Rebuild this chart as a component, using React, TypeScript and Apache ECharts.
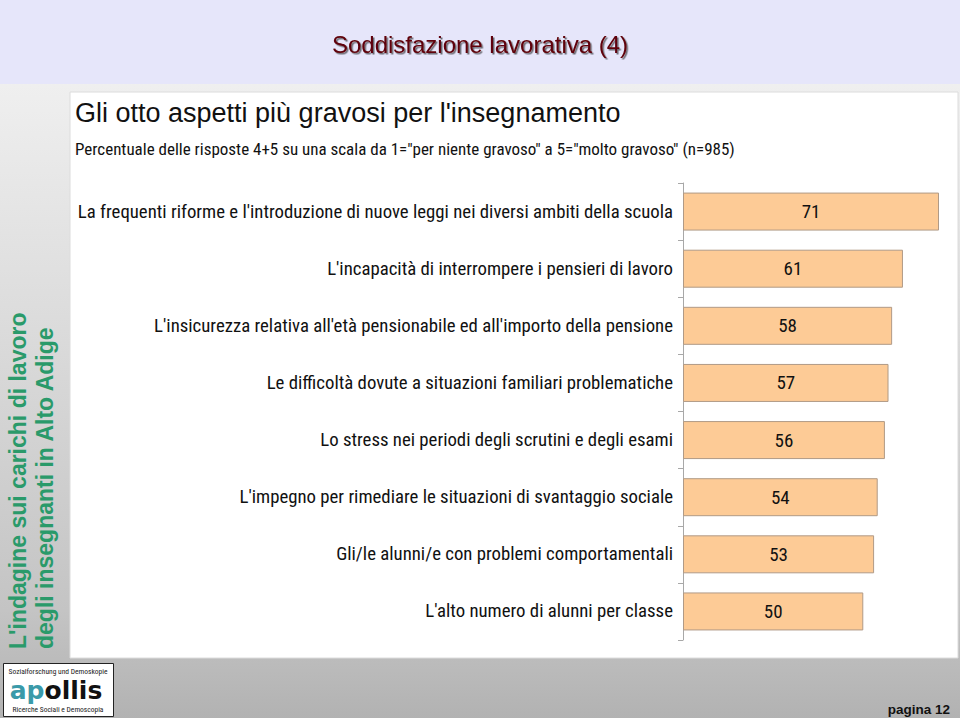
import React, { useEffect, useRef } from "react";
import * as echarts from "echarts";

const categories = [
  "La frequenti riforme e l'introduzione di nuove leggi nei diversi ambiti della scuola",
  "L'incapacità di interrompere i pensieri di lavoro",
  "L'insicurezza relativa all'età pensionabile ed all'importo della pensione",
  "Le difficoltà dovute a situazioni familiari problematiche",
  "Lo stress nei periodi degli scrutini e degli esami",
  "L'impegno per rimediare le situazioni di svantaggio sociale",
  "Gli/le alunni/e con problemi comportamentali",
  "L'alto numero di alunni per classe",
];
const values = [71, 61, 58, 57, 56, 54, 53, 50];

const pageTitle = "Soddisfazione lavorativa (4)";
const heading = "Gli otto aspetti più gravosi per l'insegnamento";
const subheading =
  'Percentuale delle risposte 4+5 su una scala da 1="per niente gravoso" a 5="molto gravoso" (n=985)';
const sideLine1 = "L'indagine sui carichi di lavoro";
const sideLine2 = "degli insegnanti in Alto Adige";
const pageLabel = "pagina 12";

const NARROW = "'Liberation Sans Narrow', 'Arial Narrow', 'Roboto Condensed', sans-serif";
const SANS = "'Liberation Sans', Arial, Helvetica, sans-serif";

export default function App() {
  const ref = useRef<HTMLDivElement>(null);
  useEffect(() => {
    if (!ref.current) return;
    const chart = echarts.init(ref.current, undefined, { renderer: "svg" });
    chart.setOption({
      animation: false,
      backgroundColor: "transparent",
      graphic: [
        {
          type: "rect",
          z: -10,
          shape: { x: 0, y: 0, width: 960, height: 718 },
          style: {
            fill: new echarts.graphic.LinearGradient(0, 0, 0, 1, [
              { offset: 0, color: "#f6f6f6" },
              { offset: 0.85, color: "#c4c4c4" },
              { offset: 1, color: "#b2b2b2" },
            ]),
          },
        },
        {
          type: "rect",
          z: -9,
          shape: { x: 0, y: 0, width: 960, height: 84 },
          style: { fill: "#e6e6fa" },
        },
        {
          type: "text",
          z: 5,
          x: 480,
          y: 44,
          style: {
            text: pageTitle,
            fontFamily: SANS,
            fontSize: 24,
            fill: "#5e0008",
            align: "center",
            verticalAlign: "middle",
            textShadowColor: "rgba(0,0,0,0.55)",
            textShadowOffsetX: 1.5,
            textShadowOffsetY: 1.5,
            textShadowBlur: 1,
          },
        },
        {
          type: "rect",
          z: -8,
          shape: { x: 70, y: 92, width: 888, height: 566 },
          style: { fill: "#ffffff", stroke: "#dcdcdc", lineWidth: 1 },
        },
        {
          type: "text",
          z: 5,
          x: 75,
          y: 113,
          style: {
            text: heading,
            fontFamily: SANS,
            fontSize: 27,
            fill: "#111",
            align: "left",
            verticalAlign: "middle",
          },
        },
        {
          type: "text",
          z: 5,
          x: 75,
          y: 149,
          style: {
            text: subheading,
            fontFamily: NARROW,
            fontSize: 17,
            fill: "#111",
            align: "left",
            verticalAlign: "middle",
          },
        },
        {
          type: "text",
          z: 5,
          x: 18,
          y: 649,
          rotation: Math.PI / 2,
          style: {
            text: sideLine1,
            fontFamily: SANS,
            fontWeight: "bold",
            fontSize: 23,
            fill: "#2a9a6a",
            align: "left",
            verticalAlign: "middle",
          },
        },
        {
          type: "text",
          z: 5,
          x: 45,
          y: 649,
          rotation: Math.PI / 2,
          style: {
            text: sideLine2,
            fontFamily: SANS,
            fontWeight: "bold",
            fontSize: 23,
            fill: "#2a9a6a",
            align: "left",
            verticalAlign: "middle",
          },
        },
        {
          type: "rect",
          z: 5,
          shape: { x: 3.5, y: 663.5, width: 110, height: 53 },
          style: { fill: "#ffffff", stroke: "#222", lineWidth: 1 },
        },
        {
          type: "text",
          z: 6,
          x: 58,
          y: 671,
          style: {
            text: "Sozialforschung und Demoskopie",
            fontFamily: NARROW,
            fontSize: 7.5,
            fill: "#222",
            align: "center",
            verticalAlign: "middle",
          },
        },
        {
          type: "text",
          z: 6,
          x: 56,
          y: 690,
          style: {
            text: "{a|ap}{b|ollis}",
            align: "center",
            verticalAlign: "middle",
            rich: {
              a: { fontFamily: "'DejaVu Sans', sans-serif", fontWeight: "bold", fontSize: 25, fill: "#3a9aa9" },
              b: { fontFamily: "'DejaVu Sans', sans-serif", fontWeight: "bold", fontSize: 25, fill: "#111" },
            },
          },
        },
        {
          type: "text",
          z: 6,
          x: 58,
          y: 709,
          style: {
            text: "Ricerche Sociali e Demoscopia",
            fontFamily: NARROW,
            fontSize: 7.5,
            fill: "#222",
            align: "center",
            verticalAlign: "middle",
          },
        },
        {
          type: "text",
          z: 6,
          x: 950,
          y: 709,
          style: {
            text: pageLabel,
            fontFamily: SANS,
            fontWeight: "bold",
            fontSize: 13.5,
            fill: "#111",
            align: "right",
            verticalAlign: "middle",
          },
        },
      ],
      grid: { left: 683, top: 183, width: 256, height: 457, containLabel: false },
      xAxis: {
        type: "value",
        min: 0,
        max: 71,
        show: false,
      },
      yAxis: {
        type: "category",
        data: categories,
        inverse: true,
        axisLine: { show: true, lineStyle: { color: "#a8a8a8", width: 1 } },
        axisTick: { show: true, length: 5, lineStyle: { color: "#a8a8a8" } },
        axisLabel: {
          margin: 10,
          fontFamily: NARROW,
          fontSize: 18.8,
          color: "#111",
        },
        splitLine: { show: false },
      },
      series: [
        {
          type: "bar",
          data: values,
          barWidth: 38,
          itemStyle: { color: "#fdcb96", borderColor: "#b09a86", borderWidth: 1 },
          label: {
            show: true,
            position: "inside",
            fontFamily: NARROW,
            fontSize: 19,
            color: "#111",
          },
        },
      ],
    });
    return () => chart.dispose();
  }, []);
  return (
    <div
      ref={ref}
      style={{ position: "absolute", left: 0, top: 0, width: 960, height: 718 }}
    />
  );
}
